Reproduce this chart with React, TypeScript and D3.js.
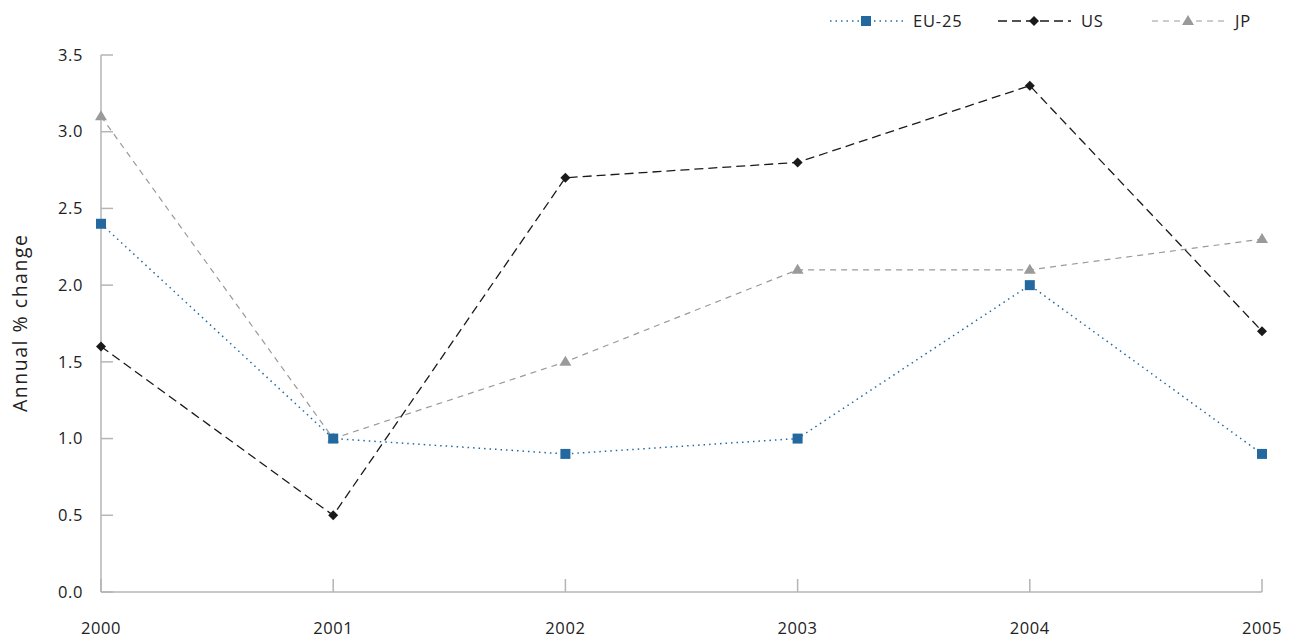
import React from "react";
import * as d3 from "d3";

const years = [2000, 2001, 2002, 2003, 2004, 2005];
const eu25 = [2.4, 1.0, 0.9, 1.0, 2.0, 0.9];
const us = [1.6, 0.5, 2.7, 2.8, 3.3, 1.7];
const jp = [3.1, 1.0, 1.5, 2.1, 2.1, 2.3];
const yTicks = [0, 0.5, 1.0, 1.5, 2.0, 2.5, 3.0, 3.5];
const yTitle = "Annual % change";

const W = 1293, H = 640;
const FONT = "'Open Sans', 'Noto Sans', sans-serif";

const x = d3.scaleLinear().domain([2000, 2005]).range([101, 1262]);
const y = d3.scaleLinear().domain([0, 3.5]).range([592, 55]);

type S = { name: string; values: number[]; color: string; dash: string; marker: string; width: number };
const series: S[] = [
  { name: "JP", values: jp, color: "#9a9a9a", dash: "6,5", marker: "tri", width: 1.2 },
  { name: "EU-25", values: eu25, color: "#2369a0", dash: "1.5,4", marker: "sq", width: 1.5 },
  { name: "US", values: us, color: "#1a1a1a", dash: "9,5", marker: "dia", width: 1.3 },
];
const legendOrder = ["EU-25", "US", "JP"];
const legendX = [830, 998, 1152];

function Marker({ kind, cx, cy, color }: { kind: string; cx: number; cy: number; color: string }) {
  if (kind === "sq") return <rect x={cx - 5} y={cy - 5} width={10} height={10} fill={color} />;
  if (kind === "dia")
    return <path d={`M${cx},${cy - 5}L${cx + 5},${cy}L${cx},${cy + 5}L${cx - 5},${cy}Z`} fill={color} />;
  return <path d={`M${cx},${cy - 6}L${cx + 6},${cy + 4}L${cx - 6},${cy + 4}Z`} fill={color} />;
}

export default function App() {
  const line = d3
    .line<number>()
    .x((_, i) => x(years[i]))
    .y((d) => y(d));
  return (
    <svg width={W} height={H} style={{ position: "absolute", left: 0, top: 0 }} fontFamily={FONT}>
      <rect width={W} height={H} fill="#fff" />
      <line x1={x(2000)} x2={x(2000)} y1={y(3.5)} y2={y(0)} stroke="#b5b5b5" strokeWidth={1.5} />
      <line x1={x(2000)} x2={x(2005)} y1={y(0)} y2={y(0)} stroke="#b5b5b5" strokeWidth={1.5} />
      {yTicks.map((t) => (
        <g key={t}>
          <line x1={x(2000)} x2={x(2000) + 12} y1={y(t)} y2={y(t)} stroke="#b5b5b5" strokeWidth={1.5} />
          <text x={83} y={y(t)} dy="0.35em" textAnchor="end" fontSize={16.5} letterSpacing={0.6} fill="#222">
            {t.toFixed(1)}
          </text>
        </g>
      ))}
      {years.map((yr) => (
        <g key={yr}>
          <line x1={x(yr)} x2={x(yr)} y1={y(0)} y2={y(0) - 13} stroke="#b5b5b5" strokeWidth={1.5} />
          <text x={x(yr)} y={628} dy="0.35em" textAnchor="middle" fontSize={16.5} letterSpacing={0.6} fill="#222">
            {yr}
          </text>
        </g>
      ))}
      <text
        transform={`translate(20,${(y(0) + y(3.5)) / 2}) rotate(-90)`}
        textAnchor="middle"
        dy="0.35em"
        fontSize={19.5}
        textLength={177}
        fill="#222"
      >
        {yTitle}
      </text>
      {series.map((s) => (
        <g key={s.name}>
          <path d={line(s.values) || ""} fill="none" stroke={s.color} strokeWidth={s.width} strokeDasharray={s.dash} />
          {s.values.map((v, i) => (
            <Marker key={i} kind={s.marker} cx={x(years[i])} cy={y(v)} color={s.color} />
          ))}
        </g>
      ))}
      {legendOrder.map((n, i) => {
        const s = series.find((q) => q.name === n)!;
        const lx = legendX[i];
        return (
          <g key={n}>
            <line x1={lx} x2={lx + 73} y1={21} y2={21} stroke={s.color} strokeWidth={s.width} strokeDasharray={s.dash} />
            <Marker kind={s.marker} cx={lx + 36} cy={21} color={s.color} />
            <text x={lx + 83} y={21} dy="0.35em" fontSize={16.5} letterSpacing={0.8} fill="#222">
              {n}
            </text>
          </g>
        );
      })}
    </svg>
  );
}
